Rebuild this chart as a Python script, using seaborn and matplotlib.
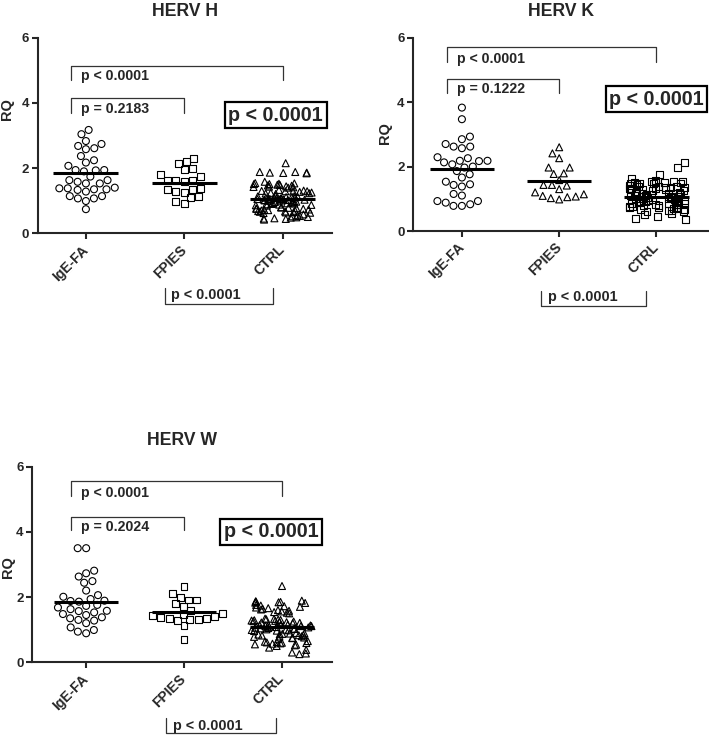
import numpy as np
import pandas as pd
import matplotlib
matplotlib.use("Agg")
import matplotlib.pyplot as plt
import seaborn as sns

# groups on the x axis
groups = ["IgE-FA", "FPIES", "CTRL"]

# --- HERV H (RQ values) ---
h_igefa = [3.17, 3.04, 2.83, 2.74, 2.68, 2.61, 2.58, 2.37, 2.24, 2.17, 2.07,
           1.94, 1.93, 1.90, 1.94, 1.74, 1.63, 1.58, 1.53, 1.53, 1.63, 1.40,
           1.35, 1.33, 1.38, 1.28, 1.35, 1.38, 1.07, 1.14, 1.14, 0.99, 1.07, 0.74]
h_fpies = [2.30, 2.20, 2.13, 1.99, 1.96, 1.79, 1.74, 1.63, 1.60, 1.63, 1.38,
           1.35, 1.28, 1.26, 1.33, 1.09, 1.12, 0.92, 0.97, 1.62]
h_ctrl = [2.15,
          1.88, 1.86, 1.85, 1.84, 1.86, 1.88,
          1.58,
          1.54, 1.52, 1.51, 1.48, 1.46, 1.43, 1.41, 1.40, 1.42, 1.44, 1.47, 1.49, 1.51, 1.53,
          1.33, 1.30, 1.29, 1.27, 1.24, 1.22, 1.21, 1.23, 1.25, 1.28, 1.29, 1.31,
          1.15, 1.13, 1.12, 1.11, 1.10, 1.09, 1.08, 1.07, 1.06, 1.05, 1.04, 1.03, 1.02,
          1.01, 1.00, 1.00, 1.01, 1.02, 1.04, 1.05, 1.06, 1.08, 1.10, 1.12, 1.14,
          0.98, 0.96, 0.95, 0.93, 0.92, 0.90, 0.88, 0.86, 0.85, 0.87, 0.89, 0.91, 0.94, 0.97,
          0.80, 0.78, 0.76, 0.75, 0.72, 0.70, 0.68, 0.66, 0.64, 0.62, 0.63, 0.65, 0.67,
          0.69, 0.71, 0.73, 0.75, 0.77, 0.79,
          0.58, 0.55, 0.52, 0.50, 0.48, 0.46, 0.44, 0.42, 0.45, 0.49, 0.53]
h_means = [1.84, 1.55, 1.04]

# --- HERV K ---
k_igefa = [3.83, 3.47, 2.85, 2.93, 2.62, 2.57, 2.62, 2.70, 2.29, 2.18, 2.17,
           2.13, 2.18, 2.26, 2.07, 1.97, 2.00, 1.76, 1.86, 1.53, 1.43, 1.38,
           1.45, 1.66, 1.10, 1.15, 0.93, 0.83, 0.78, 0.78, 0.88, 0.93]
k_fpies = [2.60, 2.41, 2.26, 1.97, 1.97, 1.77, 1.79, 1.58, 1.43, 1.41, 1.43,
           1.30, 1.20, 1.09, 1.05, 0.98, 1.02, 1.07, 1.14]
k_ctrl = [2.13, 1.98, 1.74, 1.64,
          1.56, 1.54, 1.53, 1.50, 1.48, 1.46, 1.45, 1.47, 1.49, 1.51, 1.52, 1.55,
          1.40, 1.38, 1.36, 1.34, 1.33, 1.30, 1.28, 1.26, 1.27, 1.29, 1.31, 1.33,
          1.35, 1.37, 1.39,
          1.20, 1.18, 1.16, 1.14, 1.12, 1.10, 1.08, 1.06, 1.04, 1.02, 1.00, 1.01,
          1.03, 1.05, 1.07, 1.09, 1.11, 1.13, 1.15, 1.17, 1.19,
          0.98, 0.96, 0.94, 0.92, 0.90, 0.88, 0.86, 0.84, 0.82, 0.80, 0.81, 0.83,
          0.85, 0.87, 0.89, 0.91, 0.93, 0.95, 0.97,
          0.78, 0.76, 0.74, 0.72, 0.70, 0.68, 0.66, 0.64, 0.62, 0.60, 0.65, 0.69,
          0.73, 0.77,
          0.55, 0.50, 0.45, 0.40, 0.35]
k_means = [1.93, 1.55, 1.07]

# --- HERV W ---
w_igefa = [3.50, 3.50, 2.81, 2.73, 2.63, 2.44, 2.49, 2.20, 2.06, 2.01, 1.89,
           1.86, 1.88, 1.94, 1.73, 1.63, 1.68, 1.76, 1.58, 1.48, 1.38, 1.30,
           1.28, 1.35, 1.45, 1.53, 1.57, 1.20, 0.99, 0.89, 0.94, 1.07]
w_fpies = [2.32, 2.10, 1.99, 1.91, 1.91, 1.79, 1.71, 1.58, 1.43, 1.37, 1.33,
           1.30, 1.27, 1.34, 1.31, 1.41, 1.12, 0.71, 1.50, 1.46]
w_ctrl = [2.34,
          1.89, 1.86, 1.85, 1.83, 1.82, 1.84, 1.87,
          1.76, 1.72, 1.68, 1.64, 1.60, 1.56, 1.52, 1.50, 1.54, 1.58, 1.62, 1.66,
          1.70, 1.74,
          1.34, 1.32, 1.30, 1.28, 1.26, 1.24, 1.22, 1.20, 1.21, 1.23, 1.25, 1.27,
          1.29, 1.31, 1.33,
          1.15, 1.14, 1.12, 1.11, 1.10, 1.08, 1.07, 1.05, 1.04, 1.02, 1.00, 0.98,
          0.96, 0.97, 0.99, 1.01, 1.03, 1.06, 1.09, 1.11, 1.13, 1.14,
          0.90, 0.88, 0.86, 0.84, 0.82, 0.80, 0.78, 0.76, 0.74, 0.72, 0.75, 0.79,
          0.83, 0.85, 0.87, 0.89,
          0.65, 0.63, 0.61, 0.59, 0.57, 0.55, 0.52, 0.50, 0.54, 0.58, 0.60, 0.62,
          0.45, 0.38, 0.30, 0.25, 0.27]
w_means = [1.84, 1.55, 1.07]

titles = ["HERV H", "HERV K", "HERV W"]
p_mid = ["p = 0.2183", "p = 0.1222", "p = 0.2024"]
p_all = "p < 0.0001"

sns.set_style("ticks")
plt.rcParams["font.family"] = ["Liberation Sans", "DejaVu Sans"]
plt.rcParams["font.weight"] = "bold"

fig = plt.figure(figsize=(7.09, 7.39), dpi=100)

# panel layout (axes rect, xlim, bracket heights, box, ylabel position)
panels = [
    dict(title=titles[0], data=[h_igefa, h_fpies, h_ctrl], means=h_means,
         markers=["o", "s", "^"], p=p_mid[0],
         rect=[0.0532, 0.6843, 0.4147, 0.2647], xlim=(-0.49, 2.50),
         top=(5.14, 4.70, 4.83), mid=(4.16, 3.70, 3.80),
         box=(1.93, 3.62), bot=(0.80, 1.90, -1.69, -2.17, -1.89),
         ylab=(-0.081, 0.635)),
    dict(title=titles[1], data=[k_igefa, k_fpies, k_ctrl], means=k_means,
         markers=["o", "^", "s"], p=p_mid[1],
         rect=[0.5829, 0.6874, 0.4157, 0.2616], xlim=(-0.50, 2.53),
         top=(5.72, 5.26, 5.34), mid=(4.72, 4.28, 4.40),
         box=(2.00, 4.09), bot=(0.81, 1.89, -1.86, -2.33, -2.04),
         ylab=(-0.073, 0.507)),
    dict(title=titles[2], data=[w_igefa, w_fpies, w_ctrl], means=w_means,
         markers=["o", "s", "^"], p=p_mid[2],
         rect=[0.0456, 0.1038, 0.4223, 0.2647], xlim=(-0.55, 2.51),
         top=(5.56, 5.10, 5.18), mid=(4.47, 4.06, 4.14),
         box=(1.89, 4.01), bot=(0.82, 1.94, -1.70, -2.18, -1.94),
         ylab=(-0.058, 0.489)),
]

np.random.seed(3)
bracket_color = "#333333"

for pan in panels:
    ax = fig.add_axes(pan["rect"])
    for g, vals, m in zip(groups, pan["data"], pan["markers"]):
        df = pd.DataFrame({"group": g, "RQ": vals})
        n0 = len(ax.collections)
        if g == "CTRL":
            sns.stripplot(data=df, x="group", y="RQ", order=groups, ax=ax,
                          marker=m, size=5.0, jitter=0.31, color="black")
        else:
            sns.swarmplot(data=df, x="group", y="RQ", order=groups, ax=ax,
                          marker=m, size=5.0, color="black")
        for c in ax.collections[n0:]:
            c.set_facecolor("none")
            c.set_edgecolor("black")
            c.set_linewidth(0.8)

    # mean lines
    xs = np.arange(len(groups))
    ax.hlines(pan["means"], xs - 0.33, xs + 0.33, colors="black", lw=2.2, zorder=5)

    ax.set_xlim(*pan["xlim"])
    ax.set_ylim(0, 6)
    ax.set_yticks([0, 2, 4, 6])
    ax.set_xlabel("")
    ax.set_ylabel("RQ", fontsize=10.5, fontweight="bold")
    ax.yaxis.set_label_coords(*pan["ylab"])
    ax.set_title(pan["title"], fontsize=12.7, fontweight="bold", pad=15.5)
    sns.despine(ax=ax)
    for s in ["left", "bottom"]:
        ax.spines[s].set_linewidth(1.5)
    ax.tick_params(axis="both", direction="out", length=4.3, width=1.5)
    ax.tick_params(axis="y", labelsize=9.5, pad=2)
    ax.tick_params(axis="x", labelsize=10, pad=6)
    for lab in ax.get_yticklabels():
        lab.set_fontweight("bold")
    ax.set_xticks(xs)
    ax.set_xticklabels(groups, rotation=45, ha="right", va="center",
                       rotation_mode="anchor", fontweight="bold")

    # brackets
    yt, yd, ytxt = pan["top"]
    ax.plot([-0.15, -0.15, 2.0, 2.0], [yd, yt, yt, yd], color=bracket_color,
            lw=0.9, clip_on=False)
    ax.text(-0.05, ytxt, p_all, fontsize=10.2, fontweight="bold", va="center")
    yt, yd, ytxt = pan["mid"]
    ax.plot([-0.15, -0.15, 1.0, 1.0], [yd, yt, yt, yd], color=bracket_color,
            lw=0.9, clip_on=False)
    ax.text(-0.05, ytxt, pan["p"], fontsize=10.2, fontweight="bold", va="center")

    bx, by = pan["box"]
    ax.text(bx, by, p_all, fontsize=14.2, fontweight="bold", ha="center",
            va="center",
            bbox=dict(boxstyle="square,pad=0.18", fc="white", ec="black", lw=1.6))

    x0, x1, ytop, ybot, ytxt = pan["bot"]
    ax.plot([x0, x0, x1, x1], [ytop, ybot, ybot, ytop], color=bracket_color,
            lw=0.9, clip_on=False)
    ax.text(x0 + 0.07, ytxt, p_all, fontsize=10.4, fontweight="bold", va="center")

fig.savefig("out.png", dpi=100)
